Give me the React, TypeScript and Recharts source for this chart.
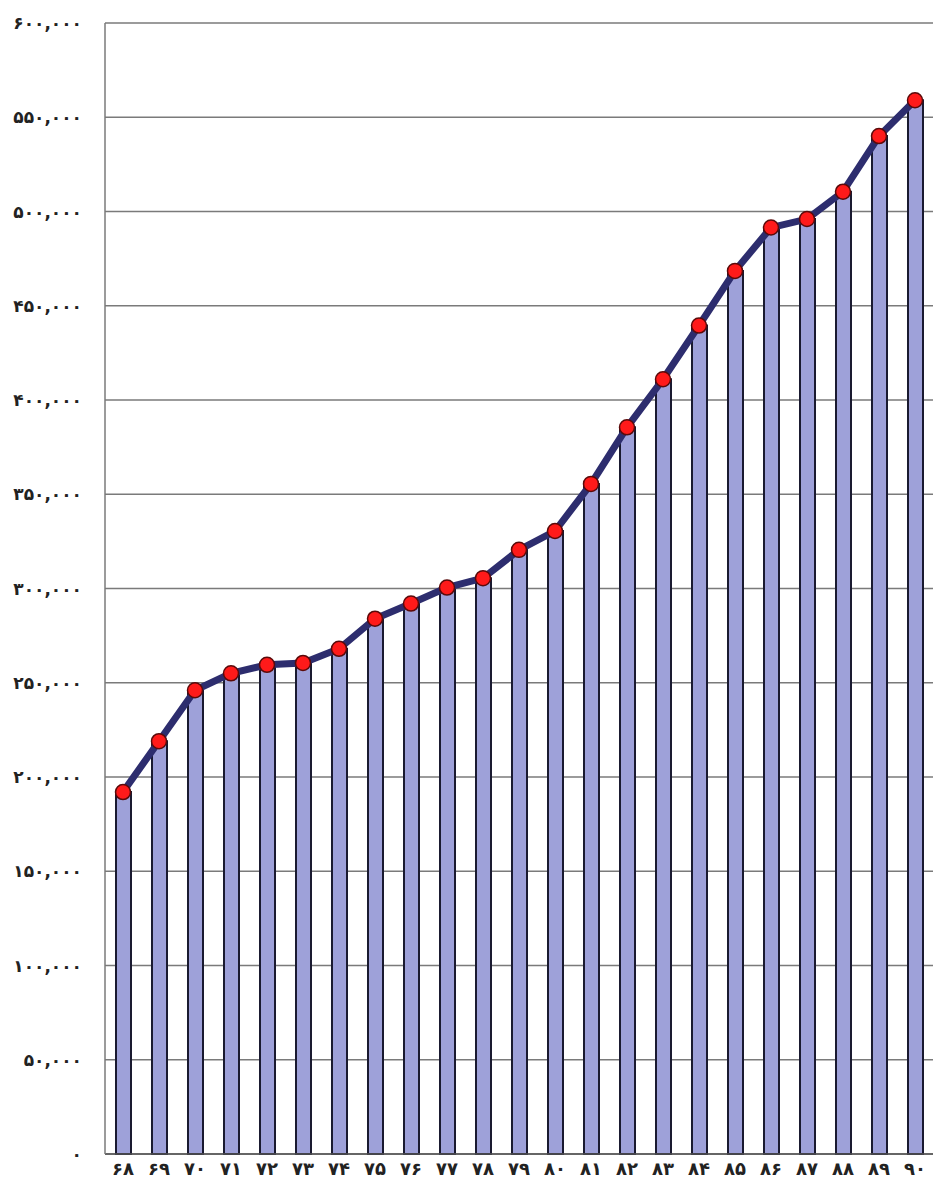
import { Bar, CartesianGrid, ComposedChart, Line, XAxis, YAxis } from "recharts";

const years = ["68", "69", "70", "71", "72", "73", "74", "75", "76", "77", "78", "79", "80", "81", "82", "83", "84", "85", "86", "87", "88", "89", "90"];
const values = [192000, 219000, 246000, 255000, 259500, 260500, 268000, 284000, 292000, 300500, 305500, 320500, 330500, 355500, 385500, 411000, 439500, 468500, 491500, 496000, 510500, 540000, 559000];
const yTicks = [0, 50000, 100000, 150000, 200000, 250000, 300000, 350000, 400000, 450000, 500000, 550000, 600000];

const faDigits = "۰۱۲۳۴۵۶۷۸۹";
const toFa = (s: string) => s.replace(/[0-9]/g, (d) => faDigits[Number(d)]);

const chartData = years.map((y, i) => ({ year: y, value: values[i] }));

function App() {
    return (
        <div style={{ position: "absolute", left: 0, top: 0 }}>
            <ComposedChart
                width={934}
                height={1204}
                data={chartData}
                margin={{ top: 23, right: 1, bottom: 0, left: 0 }}
                barCategoryGap={0}
            >
                <CartesianGrid vertical={false} stroke="#7a7a7a" strokeWidth={1.5} />
                <XAxis
                    dataKey="year"
                    height={50}
                    tickSize={0}
                    tickMargin={8}
                    axisLine={{ stroke: "#555", strokeWidth: 1.5 }}
                    tickFormatter={(v: string) => toFa(v)}
                    tick={{ fill: "#222", fontSize: 18, fontWeight: "bold", fontFamily: "DejaVu Sans" }}
                    interval={0}
                />
                <YAxis
                    width={105}
                    domain={[0, 600000]}
                    ticks={yTicks}
                    tickSize={0}
                    tickMargin={23}
                    axisLine={{ stroke: "#7a7a7a", strokeWidth: 1.5 }}
                    tickFormatter={(v: number) => toFa(v.toLocaleString("en-US"))}
                    tick={{ fill: "#222", fontSize: 17, fontWeight: "bold", fontFamily: "DejaVu Sans", letterSpacing: 1 }}
                    interval={0}
                />
                <Bar dataKey="value" barSize={15} fill="#9ea1d9" stroke="#1a1a30" strokeWidth={2} isAnimationActive={false} />
                <Line
                    dataKey="value"
                    type="linear"
                    stroke="#2d2d6e"
                    strokeWidth={7}
                    dot={{ r: 7.5, fill: "#ff1a1a", stroke: "#5a0a0a", strokeWidth: 1.5 }}
                    isAnimationActive={false}
                />
            </ComposedChart>
        </div>
    );
}

export default App;
